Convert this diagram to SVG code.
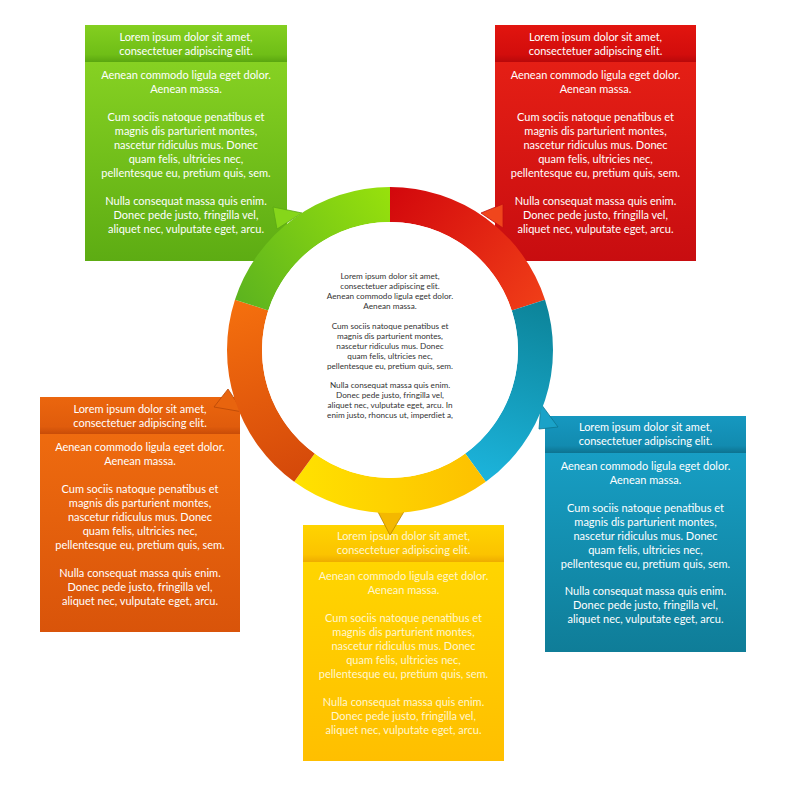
<svg xmlns="http://www.w3.org/2000/svg" width="800" height="800" viewBox="0 0 800 800">
<style>
.hd{font-family:Lato,"Open Sans","Liberation Sans",sans-serif;font-size:11px;fill:#ffffff;text-anchor:middle}
.bd{font-family:Lato,"Open Sans","Liberation Sans",sans-serif;font-size:11px;fill:#ffffff;text-anchor:middle}
.yl{fill:#fff7d0}
.ct{font-family:Lato,"Open Sans","Liberation Sans",sans-serif;font-size:8.2px;fill:#333333;text-anchor:middle}
</style>
<defs>
<linearGradient id="gB" x1="0" y1="0" x2="0" y2="1"><stop offset="0" stop-color="#8ed825"/><stop offset="1" stop-color="#5dac13"/></linearGradient>
<linearGradient id="gH" x1="0" y1="0" x2="0" y2="1"><stop offset="0" stop-color="#84cf20"/><stop offset="0.8" stop-color="#6fbe17"/><stop offset="1" stop-color="#5aa610"/></linearGradient>
<linearGradient id="rB" x1="0" y1="0" x2="0" y2="1"><stop offset="0" stop-color="#ea2216"/><stop offset="1" stop-color="#c80d10"/></linearGradient>
<linearGradient id="rH" x1="0" y1="0" x2="0" y2="1"><stop offset="0" stop-color="#e2150f"/><stop offset="0.8" stop-color="#d20d0c"/><stop offset="1" stop-color="#b8080a"/></linearGradient>
<linearGradient id="oB" x1="0" y1="0" x2="0" y2="1"><stop offset="0" stop-color="#f26f10"/><stop offset="1" stop-color="#d9540a"/></linearGradient>
<linearGradient id="oH" x1="0" y1="0" x2="0" y2="1"><stop offset="0" stop-color="#eb660e"/><stop offset="0.8" stop-color="#e05c0c"/><stop offset="1" stop-color="#c84c08"/></linearGradient>
<linearGradient id="bB" x1="0" y1="0" x2="0" y2="1"><stop offset="0" stop-color="#19a4cc"/><stop offset="1" stop-color="#0f7d98"/></linearGradient>
<linearGradient id="bH" x1="0" y1="0" x2="0" y2="1"><stop offset="0" stop-color="#1698c0"/><stop offset="0.8" stop-color="#128bb0"/><stop offset="1" stop-color="#0d7390"/></linearGradient>
<linearGradient id="yB" x1="0" y1="0" x2="0" y2="1"><stop offset="0" stop-color="#ffd900"/><stop offset="1" stop-color="#ffbf00"/></linearGradient>
<linearGradient id="yH" x1="0" y1="0" x2="0" y2="1"><stop offset="0" stop-color="#ffd400"/><stop offset="0.8" stop-color="#fbc300"/><stop offset="1" stop-color="#eeac00"/></linearGradient>
<linearGradient id="sR" gradientUnits="userSpaceOnUse" x1="390" y1="187" x2="545" y2="300"><stop offset="0" stop-color="#d2070c"/><stop offset="1" stop-color="#f03e18"/></linearGradient>
<linearGradient id="sB" gradientUnits="userSpaceOnUse" x1="545" y1="300" x2="486" y2="482"><stop offset="0" stop-color="#0c8398"/><stop offset="1" stop-color="#1cb4dc"/></linearGradient>
<linearGradient id="sY" gradientUnits="userSpaceOnUse" x1="486" y1="482" x2="294" y2="482"><stop offset="0" stop-color="#fdc000"/><stop offset="1" stop-color="#ffe200"/></linearGradient>
<linearGradient id="sO" gradientUnits="userSpaceOnUse" x1="294" y1="482" x2="235" y2="300"><stop offset="0" stop-color="#d4480a"/><stop offset="1" stop-color="#f5700e"/></linearGradient>
<linearGradient id="sG" gradientUnits="userSpaceOnUse" x1="235" y1="300" x2="390" y2="187"><stop offset="0" stop-color="#5cb31f"/><stop offset="1" stop-color="#98e10c"/></linearGradient>
</defs>
<rect width="800" height="800" fill="#ffffff"/>

<g id="box-green">
<rect x="85" y="25" width="202" height="236" fill="url(#gB)"/>
<rect x="85" y="25" width="202" height="37" fill="url(#gH)"/>
<text class="hd"><tspan x="186" y="41">Lorem ipsum dolor sit amet,</tspan><tspan x="186" y="55">consectetuer adipiscing elit.</tspan></text>
<text class="bd"><tspan x="186" y="79">Aenean commodo ligula eget dolor.</tspan><tspan x="186" y="93">Aenean massa.</tspan><tspan x="186" y="121">Cum sociis natoque penatibus et</tspan><tspan x="186" y="135">magnis dis parturient montes,</tspan><tspan x="186" y="149">nascetur ridiculus mus. Donec</tspan><tspan x="186" y="163">quam felis, ultricies nec,</tspan><tspan x="186" y="177">pellentesque eu, pretium quis, sem.</tspan><tspan x="186" y="205">Nulla consequat massa quis enim.</tspan><tspan x="186" y="219">Donec pede justo, fringilla vel,</tspan><tspan x="186" y="233">aliquet nec, vulputate eget, arcu.</tspan></text>
</g>

<g id="box-red">
<rect x="495" y="25" width="201" height="236" fill="url(#rB)"/>
<rect x="495" y="25" width="201" height="37" fill="url(#rH)"/>
<text class="hd"><tspan x="595.5" y="41">Lorem ipsum dolor sit amet,</tspan><tspan x="595.5" y="55">consectetuer adipiscing elit.</tspan></text>
<text class="bd"><tspan x="595.5" y="79">Aenean commodo ligula eget dolor.</tspan><tspan x="595.5" y="93">Aenean massa.</tspan><tspan x="595.5" y="121">Cum sociis natoque penatibus et</tspan><tspan x="595.5" y="135">magnis dis parturient montes,</tspan><tspan x="595.5" y="149">nascetur ridiculus mus. Donec</tspan><tspan x="595.5" y="163">quam felis, ultricies nec,</tspan><tspan x="595.5" y="177">pellentesque eu, pretium quis, sem.</tspan><tspan x="595.5" y="205">Nulla consequat massa quis enim.</tspan><tspan x="595.5" y="219">Donec pede justo, fringilla vel,</tspan><tspan x="595.5" y="233">aliquet nec, vulputate eget, arcu.</tspan></text>
</g>

<g id="box-orange">
<rect x="40" y="397" width="200" height="235" fill="url(#oB)"/>
<rect x="40" y="397" width="200" height="37" fill="url(#oH)"/>
<text class="hd"><tspan x="140" y="413">Lorem ipsum dolor sit amet,</tspan><tspan x="140" y="427">consectetuer adipiscing elit.</tspan></text>
<text class="bd"><tspan x="140" y="451">Aenean commodo ligula eget dolor.</tspan><tspan x="140" y="465">Aenean massa.</tspan><tspan x="140" y="493">Cum sociis natoque penatibus et</tspan><tspan x="140" y="507">magnis dis parturient montes,</tspan><tspan x="140" y="521">nascetur ridiculus mus. Donec</tspan><tspan x="140" y="535">quam felis, ultricies nec,</tspan><tspan x="140" y="549">pellentesque eu, pretium quis, sem.</tspan><tspan x="140" y="577">Nulla consequat massa quis enim.</tspan><tspan x="140" y="591">Donec pede justo, fringilla vel,</tspan><tspan x="140" y="605">aliquet nec, vulputate eget, arcu.</tspan></text>
</g>

<g id="box-blue">
<rect x="545" y="416" width="201" height="236" fill="url(#bB)"/>
<rect x="545" y="416" width="201" height="37" fill="url(#bH)"/>
<text class="hd"><tspan x="645.5" y="431">Lorem ipsum dolor sit amet,</tspan><tspan x="645.5" y="445">consectetuer adipiscing elit.</tspan></text>
<text class="bd"><tspan x="645.5" y="470">Aenean commodo ligula eget dolor.</tspan><tspan x="645.5" y="484">Aenean massa.</tspan><tspan x="645.5" y="512">Cum sociis natoque penatibus et</tspan><tspan x="645.5" y="526">magnis dis parturient montes,</tspan><tspan x="645.5" y="540">nascetur ridiculus mus. Donec</tspan><tspan x="645.5" y="554">quam felis, ultricies nec,</tspan><tspan x="645.5" y="568">pellentesque eu, pretium quis, sem.</tspan><tspan x="645.5" y="595">Nulla consequat massa quis enim.</tspan><tspan x="645.5" y="609">Donec pede justo, fringilla vel,</tspan><tspan x="645.5" y="623">aliquet nec, vulputate eget, arcu.</tspan></text>
</g>

<g id="box-yellow">
<rect x="303" y="525" width="201" height="236" fill="url(#yB)"/>
<rect x="303" y="525" width="201" height="37" fill="url(#yH)"/>
<text class="hd yl"><tspan x="403.5" y="540">Lorem ipsum dolor sit amet,</tspan><tspan x="403.5" y="554">consectetuer adipiscing elit.</tspan></text>
<text class="bd yl"><tspan x="403.5" y="580">Aenean commodo ligula eget dolor.</tspan><tspan x="403.5" y="594">Aenean massa.</tspan><tspan x="403.5" y="622">Cum sociis natoque penatibus et</tspan><tspan x="403.5" y="636">magnis dis parturient montes,</tspan><tspan x="403.5" y="650">nascetur ridiculus mus. Donec</tspan><tspan x="403.5" y="664">quam felis, ultricies nec,</tspan><tspan x="403.5" y="678">pellentesque eu, pretium quis, sem.</tspan><tspan x="403.5" y="706">Nulla consequat massa quis enim.</tspan><tspan x="403.5" y="720">Donec pede justo, fringilla vel,</tspan><tspan x="403.5" y="734">aliquet nec, vulputate eget, arcu.</tspan></text>
</g>

<g id="connectors">
<polygon points="273,207 302,213 277,229" fill="#86d61a" stroke="#5aa814" stroke-width="0.8"/>
<polygon points="481,213 503,204 503,228" fill="#f0461c" stroke="#c41010" stroke-width="0.8"/>
<polygon points="214,407 228,389 243,412" fill="#e8640e" stroke="#b84808" stroke-width="0.8"/>
<polygon points="541,404 558,427 539,429" fill="#1aa2c8" stroke="#0d7690" stroke-width="0.8"/>
<polygon points="377,510 405,510 390,535" fill="#f4b800" stroke="#b88600" stroke-width="0.8"/>
</g>

<g id="ring">
<path id="seg-red" d="M390,187 A163,163 0 0 1 545.02,299.63 L511.74,310.45 A128,128 0 0 0 390,222 Z" fill="url(#sR)"/>
<path id="seg-blue" d="M545.02,299.63 A163,163 0 0 1 485.81,481.87 L465.24,453.55 A128,128 0 0 0 511.74,310.45 Z" fill="url(#sB)"/>
<path id="seg-yellow" d="M485.81,481.87 A163,163 0 0 1 294.19,481.87 L314.76,453.55 A128,128 0 0 0 465.24,453.55 Z" fill="url(#sY)"/>
<path id="seg-orange" d="M294.19,481.87 A163,163 0 0 1 234.98,299.63 L268.26,310.45 A128,128 0 0 0 314.76,453.55 Z" fill="url(#sO)"/>
<path id="seg-green" d="M234.98,299.63 A163,163 0 0 1 390,187 L390,222 A128,128 0 0 0 268.26,310.45 Z" fill="url(#sG)"/>
</g>

<g id="center">
<circle cx="390" cy="350" r="128" fill="#ffffff"/>
<text class="ct"><tspan x="390" y="279">Lorem ipsum dolor sit amet,</tspan><tspan x="390" y="289">consectetuer adipiscing elit.</tspan><tspan x="390" y="299">Aenean commodo ligula eget dolor.</tspan><tspan x="390" y="309">Aenean massa.</tspan><tspan x="390" y="329">Cum sociis natoque penatibus et</tspan><tspan x="390" y="339">magnis dis parturient montes,</tspan><tspan x="390" y="349">nascetur ridiculus mus. Donec</tspan><tspan x="390" y="359">quam felis, ultricies nec,</tspan><tspan x="390" y="369">pellentesque eu, pretium quis, sem.</tspan><tspan x="390" y="388">Nulla consequat massa quis enim.</tspan><tspan x="390" y="398">Donec pede justo, fringilla vel,</tspan><tspan x="390" y="408">aliquet nec, vulputate eget, arcu. In</tspan><tspan x="390" y="418">enim justo, rhoncus ut, imperdiet a,</tspan></text>
</g>
</svg>
